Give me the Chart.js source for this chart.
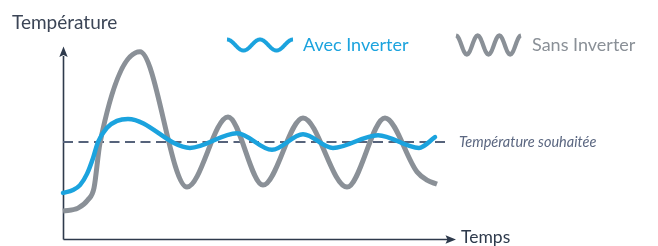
<!DOCTYPE html>
<html><head><meta charset="utf-8">
<script src="https://cdn.jsdelivr.net/npm/chart.js@4.4.1/dist/chart.umd.min.js"></script>
<style>html,body{margin:0;padding:0;background:#fff;overflow:hidden}#wrap{width:658px;height:246px;position:relative}</style>
</head><body><div id="wrap"><canvas id="c" width="658" height="246"></canvas></div>
<script>
// ---- data ----
const yAxisTitle = 'Température';
const xAxisTitle = 'Temps';
const targetLabel = 'Température souhaitée';
const seriesNames = ['Avec Inverter', 'Sans Inverter'];
const targetTemp = 20;
const targetTimes = [0, 95.5];

const timeAvec = [0, 2.5, 4.25, 6, 7.5, 8.75, 11, 13.5, 16.25, 31.75, 43.5, 52.25, 60, 67.5, 78.75, 89, 93];
const tempAvec = [9.6, 10.2, 11.2, 13.5, 16.7, 20.0, 22.9, 24.3, 24.7, 18.8, 21.8, 18.4, 21.6, 18.8, 21.4, 18.8, 21.0];

const timeSans = [0, 3.75, 6.25, 7.75, 9.25, 19.25, 31, 41.25, 50, 60, 71, 80.5, 88.5, 91, 93.5];
const tempSans = [5.9, 6.5, 8.2, 10.6, 19.8, 38.4, 10.8, 25.1, 11.2, 24.9, 10.8, 24.9, 13.9, 12.2, 11.4];

// ---- styles ----
const BLUE = '#1ba3de';
const GRAY = '#8a9097';
const AXIS = '#2e3a4c';
const DASH = '#56637b';
const FONT = 'Lato, "Open Sans", sans-serif';

const pts = (xs, ys) => xs.map((x, i) => ({x, y: ys[i]}));

const decor = {
  id: 'decor',
  beforeDatasetsDraw(chart) {
    const {ctx, chartArea: a} = chart;
    ctx.save();
    ctx.strokeStyle = AXIS; ctx.fillStyle = AXIS; ctx.lineWidth = 1.6;
    const ax = a.left + 0.5, ay = a.bottom - 0.5;
    ctx.beginPath();
    ctx.moveTo(ax, ay); ctx.lineTo(ax, a.top + 12);
    ctx.moveTo(ax, ay); ctx.lineTo(a.right + 1, ay);
    ctx.stroke();
    ctx.beginPath();
    ctx.moveTo(ax, a.top + 2.5); ctx.lineTo(ax - 4.2, a.top + 13); ctx.lineTo(ax, a.top + 11); ctx.lineTo(ax + 4.2, a.top + 13); ctx.closePath(); ctx.fill();
    ctx.beginPath();
    ctx.moveTo(a.right + 9, ay); ctx.lineTo(a.right - 1.5, ay - 4.2); ctx.lineTo(a.right + 0.5, ay); ctx.lineTo(a.right - 1.5, ay + 4.2); ctx.closePath(); ctx.fill();
    ctx.restore();
  },
  afterDraw(chart) {
    const {ctx, scales} = chart;
    ctx.save();
    ctx.textBaseline = 'alphabetic';
    ctx.fillStyle = '#3b4556';
    ctx.font = '19px ' + FONT;
    ctx.fillText(yAxisTitle, 12, 29);
    ctx.font = '17.5px ' + FONT;
    ctx.fillStyle = '#2e3a4c';
    ctx.fillText(xAxisTitle, 461, 243);
    ctx.font = 'italic 14.5px ' + FONT;
    ctx.fillStyle = '#5b6781';
    ctx.textBaseline = 'middle';
    ctx.fillText(targetLabel, 459, scales.y.getPixelForValue(targetTemp));
    const legend = [
      {ds: 0, x0: 227, x1: 293, amp: 5.5, periods: 2, lw: 4, tx: 303},
      {ds: 1, x0: 456, x1: 521, amp: 9.5, periods: 3, lw: 4.2, tx: 532}
    ];
    const cy = 45;
    legend.forEach(l => {
      const d = chart.data.datasets[l.ds];
      ctx.strokeStyle = d.borderColor; ctx.lineWidth = l.lw; ctx.lineCap = 'butt';
      ctx.beginPath();
      for (let i = 0; i <= 120; i++) {
        const s = i / 120;
        const x = l.x0 + s * (l.x1 - l.x0);
        const y = cy - l.amp * Math.cos(s * l.periods * 2 * Math.PI);
        if (i === 0) ctx.moveTo(x, y); else ctx.lineTo(x, y);
      }
      ctx.stroke();
      ctx.fillStyle = d.borderColor;
      ctx.font = '18px ' + FONT;
      ctx.textBaseline = 'middle';
      ctx.fillText(d.label, l.tx, cy);
    });
    ctx.restore();
  }
};

new Chart(document.getElementById('c'), {
  type: 'line',
  data: {
    datasets: [
      {label: seriesNames[0], data: pts(timeAvec, tempAvec), borderColor: BLUE, borderWidth: 4.5,
       cubicInterpolationMode: 'monotone', pointRadius: 0, fill: false, clip: false, order: 1, borderCapStyle: 'round'},
      {label: seriesNames[1], data: pts(timeSans, tempSans), borderColor: GRAY, borderWidth: 5,
       cubicInterpolationMode: 'monotone', pointRadius: 0, fill: false, clip: false, order: 2, borderCapStyle: 'butt'},
      {label: targetLabel, data: pts(targetTimes, [targetTemp, targetTemp]), borderColor: DASH, borderWidth: 2,
       borderDash: [10, 5.5], pointRadius: 0, fill: false, clip: false, order: 3}
    ]
  },
  options: {
    responsive: false, animation: false, devicePixelRatio: 1,
    layout: {padding: {left: 63, right: 211, top: 44, bottom: 6}},
    plugins: {legend: {display: false}, tooltip: {enabled: false}, title: {display: false}},
    scales: {
      x: {type: 'linear', min: 0, max: 96, display: false},
      y: {type: 'linear', min: 0, max: 40, display: false}
    }
  },
  plugins: [decor]
});
</script></body></html>
